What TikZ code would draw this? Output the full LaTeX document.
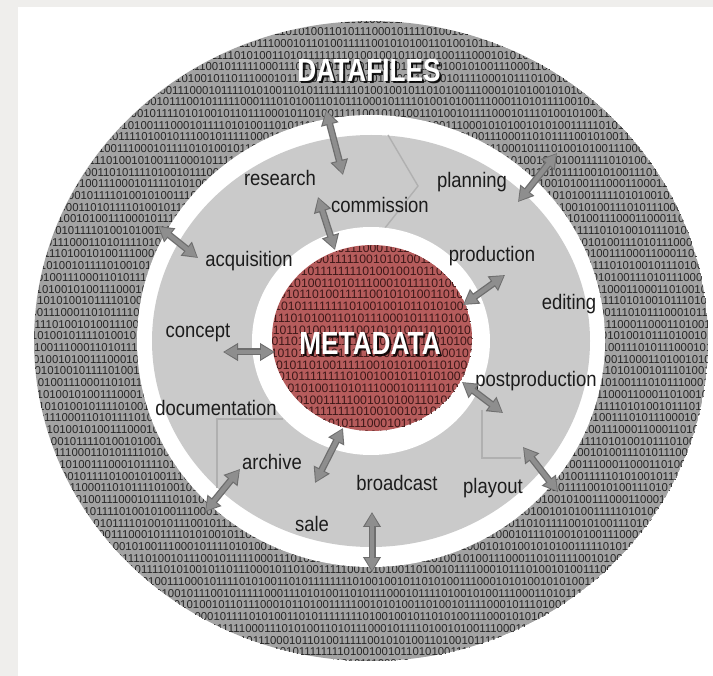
\documentclass[tikz,border=0pt]{standalone}
\usepackage{fontspec}
\setmainfont{Liberation Sans}
\newfontfamily\labfam[FakeStretch=0.88]{Liberation Sans}
\newfontfamily\titlefam[FakeStretch=0.82]{Liberation Sans}
\usetikzlibrary{positioning, arrows.meta}

\definecolor{pagegrey}{HTML}{EFEEEC}
\definecolor{ringgrey}{HTML}{A3A3A3}
\definecolor{bitgrey}{HTML}{262626}
\definecolor{diskgrey}{HTML}{CACACA}
\definecolor{metared}{HTML}{B65C5C}
\definecolor{bitred}{HTML}{3E1818}
\definecolor{arredge}{HTML}{6E6E6E}
\definecolor{arrfill}{HTML}{8E8E8E}
\definecolor{foldgrey}{HTML}{B0B0B0}
\definecolor{labcol}{HTML}{1C1C1C}

\def\bitsA{0110101001011110100101001110001011110101001101011111111010010010110101001110001010100101010011111010100101110100101}
\def\bitsB{1010011100011010111101001011100101111100011101010011010111000101111010010100111000110101111001010011101011100010110}
\def\bitsC{0011101001010011100010111101010010110111000101101001111100101010011010010111100010111010010100111000110001101001010}

\tikzset{
  lab/.style={
      font=\labfam\fontsize{21}{21}\selectfont,
      text=labcol,
      inner sep=0pt
    },
  titletext/.style={
      font=\titlefam\bfseries\fontsize{32}{32}\selectfont,
      text=white,
      inner sep=0pt
    },
  titleshadow/.style={
      titletext,
      text=black,
      opacity=0.85
    },
  bits/.style={
      font=\fontsize{11.4}{11.4}\selectfont,
      text=bitgrey,
      inner sep=0pt
    },
  redbits/.style={
      bits,
      font=\fontsize{12.2}{12.2}\selectfont,
      text=bitred
    },
  arrback/.style={
      draw=arredge,
      line width=7pt,
      {Triangle[length=15pt,width=17pt]}-{Triangle[length=15pt,width=17pt]}
    },
  arrfront/.style={
      draw=arrfill,
      line width=4.4pt,
      shorten <=1.4pt,
      shorten >=1.4pt,
      {Triangle[length=12.5pt,width=13pt]}-{Triangle[length=12.5pt,width=13pt]}
    },
  fold/.style={
      draw=foldgrey,
      line width=1.4pt
    }
}

\begin{document}
\begin{tikzpicture}[x=1pt, y=-1pt]
  \useasboundingbox (0,0) rectangle (713,676);
  \fill[pagegrey] (0,0) rectangle (713,676);
  \fill[white] (18,7) rectangle (713,676);

  % outer data ring
  \coordinate (ctr) at (371,341);
  \begin{scope}
    \clip (ctr) ellipse [x radius=337, y radius=320];
    \fill[ringgrey] (ctr) ellipse [x radius=337, y radius=320];
    \foreach \r in {0,...,55} {
      \pgfmathsetmacro\yy{20+11.7*\r}
      \pgfmathsetmacro\xx{371+mod(\r*13,29)-14}
      \pgfmathtruncatemacro\k{mod(\r,3)}
      \node[bits] (row\r) at (\xx,\yy) {\ifcase\k\relax\bitsA\or\bitsB\else\bitsC\fi};
    }
  \end{scope}
  \fill[white] (ctr) ellipse [x radius=234, y radius=226];
  \fill[diskgrey] (ctr) ellipse [x radius=219, y radius=206];

  % faint cycle arrow folds
  \draw[fold] (388,135) -- (418,186) -- (385,228);
  \draw[fold] (283,419) -- (217,419) -- (217,488);
  \draw[fold] (482,410) -- (482,458) -- (521,458);

  % metadata core
  \fill[white] (ctr) ellipse [x radius=119, y radius=114];
  \coordinate (core) at (372,338);
  \begin{scope}
    \clip (core) ellipse [x radius=100, y radius=93];
    \fill[metared] (core) ellipse [x radius=100, y radius=93];
    \foreach \r in {0,...,16} {
      \pgfmathsetmacro\yy{248+11.7*\r}
      \pgfmathsetmacro\xx{372+mod(\r*11,23)-11}
      \pgfmathtruncatemacro\k{mod(\r+1,3)}
      \node[redbits] (redrow\r) at (\xx,\yy) {\ifcase\k\relax\bitsA\or\bitsB\else\bitsC\fi};
    }
  \end{scope}

  \node[titleshadow] (datafilesshadow) at (371,72) {DATAFILES};
  \node[titletext] (datafiles) at (369,70) {DATAFILES};
  \node[titleshadow] (metadatashadow) at (372,345) {METADATA};
  \node[titletext] (metadata) at (370,343) {METADATA};

  \node[lab] (research) at (280,178) {research};
  \node[lab] (commission) at (380,205) {commission};
  \node[lab] (planning) at (472,182) {planning};
  \node[lab] (acquisition) at (249,261) {acquisition};
  \node[lab] (production) at (492,256) {production};
  \node[lab] (editing) at (569,304) {editing};
  \node[lab] (concept) at (198,333) {concept};
  \node[lab] (documentation) at (216,408) {documentation};
  \node[lab] (postproduction) at (536,381) {postproduction};
  \node[lab] (archive) at (272,462) {archive};
  \node[lab] (broadcast) at (397,483) {broadcast};
  \node[lab] (playout) at (493,488) {playout};
  \node[lab] (sale) at (312,524) {sale};

  % arrow ends
  \coordinate (resA) at (326,110);  \coordinate (resB) at (343,175);
  \coordinate (plaA) at (557,153);  \coordinate (plaB) at (518,202);
  \coordinate (comA) at (318,197);  \coordinate (comB) at (335,250);
  \coordinate (acqA) at (158,226);  \coordinate (acqB) at (198,258);
  \coordinate (proA) at (505,275);  \coordinate (proB) at (463,305);
  \coordinate (conA) at (223,352);  \coordinate (conB) at (275,352);
  \coordinate (posA) at (462,382);  \coordinate (posB) at (503,413);
  \coordinate (arcA) at (343,428);  \coordinate (arcB) at (315,483);
  \coordinate (outA) at (240,469);  \coordinate (outB) at (205,512);
  \coordinate (plyA) at (523,447);  \coordinate (plyB) at (558,492);
  \coordinate (salA) at (372,512);  \coordinate (salB) at (372,572);

  \foreach \a in {res,pla,com,acq,pro,con,pos,arc,out,ply,sal} {
    \draw[arrback] (\a A) -- (\a B);
    \draw[arrfront] (\a A) -- (\a B);
  }
\end{tikzpicture}
\end{document}
